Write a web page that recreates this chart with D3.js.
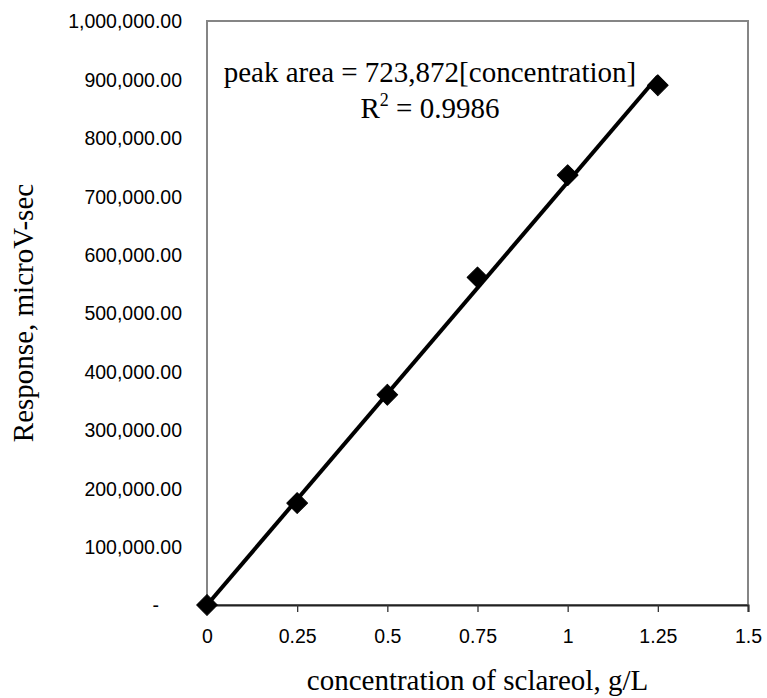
<!DOCTYPE html>
<html>
<head>
<meta charset="utf-8">
<script src="https://cdn.jsdelivr.net/npm/d3@7"></script>
<style>
    body { margin: 0; background: #fff; }
    .tick text { font-family: "Liberation Sans", Arial, sans-serif; font-size: 19.5px; fill: #000; }
    .title { font-family: "Liberation Serif", "Times New Roman", serif; font-size: 29px; fill: #000; }
</style>
</head>
<body>
<svg width="767" height="698"></svg>
<script>
// calibration data for sclareol
const concentration = [0, 0.25, 0.5, 0.75, 1.0, 1.25];
const response = [0, 174500, 360000, 561000, 736000, 890000];
const fitSlope = 723872;
const fitRange = [0, 1.25];
const xTicks = [0, 0.25, 0.5, 0.75, 1, 1.25, 1.5];
const yTicks = [0, 100000, 200000, 300000, 400000, 500000, 600000, 700000, 800000, 900000, 1000000];

const svg = d3.select("svg");
const margin = {left: 207, top: 21, right: 19, bottom: 93};
const width = 767 - margin.left - margin.right;
const height = 698 - margin.top - margin.bottom;

const x = d3.scaleLinear().domain([0, 1.5]).range([margin.left, margin.left + width]);
const y = d3.scaleLinear().domain([0, 1000000]).range([margin.top + height, margin.top]);

// plot frame
svg.append("rect")
    .attr("x", margin.left)
    .attr("y", margin.top)
    .attr("width", width)
    .attr("height", height)
    .attr("fill", "none")
    .attr("stroke", "#858585")
    .attr("stroke-width", 2);

// y axis labels only (no line, no ticks)
const fmt = d3.format(",.2f");
const yAxis = svg.append("g")
    .attr("transform", `translate(${margin.left},0)`)
    .call(d3.axisLeft(y).tickValues(yTicks).tickSize(0).tickPadding(25)
        .tickFormat(d => d === 0 ? "-" : fmt(d)));
yAxis.select(".domain").remove();
yAxis.selectAll(".tick text")
    .attr("dy", "0.35em")
    .attr("x", d => d === 0 ? -48 : -25);

// x axis
const xAxis = svg.append("g")
    .attr("transform", `translate(0,${margin.top + height})`)
    .call(d3.axisBottom(x).tickValues(xTicks).tickSize(7).tickPadding(17)
        .tickFormat(d => String(d)));
xAxis.select(".domain").attr("stroke", "#222").attr("stroke-width", 2);
xAxis.selectAll(".tick line").attr("stroke", "#333").attr("stroke-width", 1.3);

// data markers
svg.append("g")
    .selectAll("path")
    .data(concentration.map((c, i) => [c, response[i]]))
    .join("path")
    .attr("d", d3.symbol(d3.symbolSquare, 215))
    .attr("transform", d => `translate(${x(d[0])},${y(d[1])}) rotate(45)`)
    .attr("fill", "#000")
    .attr("stroke", "#000")
    .attr("stroke-linejoin", "round");

// linear fit through origin
svg.append("path")
    .datum(fitRange)
    .attr("fill", "none")
    .attr("stroke", "#000")
    .attr("stroke-width", 4)
    .attr("d", d3.line().x(d => x(d)).y(d => y(fitSlope * d)));

// equation annotation
svg.append("text")
    .attr("class", "title")
    .attr("x", 430)
    .attr("y", 82)
    .attr("text-anchor", "middle")
    .text("peak area = 723,872[concentration]");

const r2 = svg.append("text")
    .attr("class", "title")
    .attr("x", 430)
    .attr("y", 118)
    .attr("text-anchor", "middle");
r2.append("tspan").text("R");
r2.append("tspan").attr("dy", -12).attr("font-size", 18).text("2");
r2.append("tspan").attr("dy", 12).text(" = 0.9986");

// axis titles
svg.append("text")
    .attr("class", "title")
    .attr("x", margin.left + width / 2)
    .attr("y", 690)
    .attr("text-anchor", "middle")
    .text("concentration of sclareol, g/L");

svg.append("text")
    .attr("class", "title")
    .attr("transform", `translate(33,${margin.top + height / 2}) rotate(-90)`)
    .attr("text-anchor", "middle")
    .text("Response, microV-sec");
</script>
</body>
</html>
